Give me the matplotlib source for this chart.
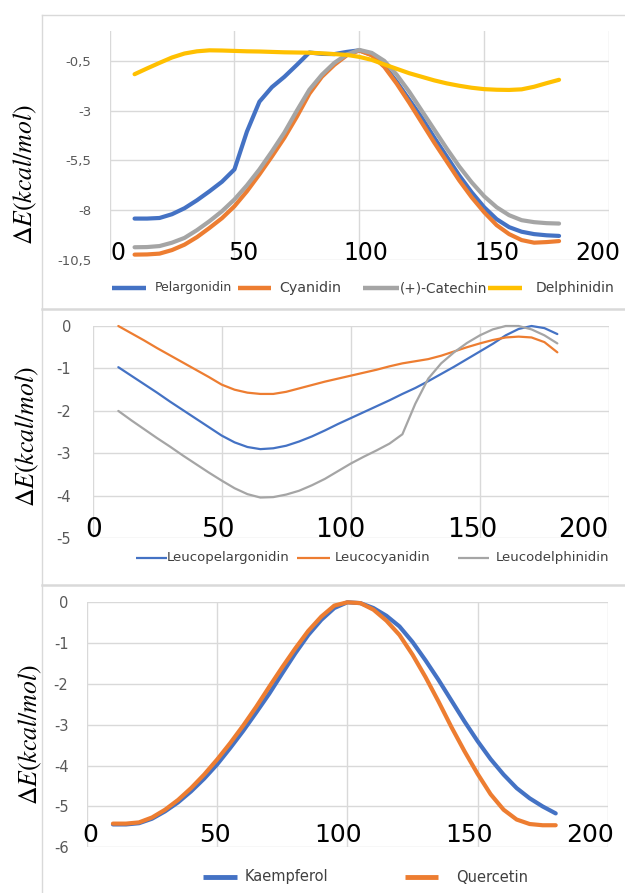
import matplotlib
matplotlib.use("Agg")
import matplotlib.pyplot as plt
from matplotlib.lines import Line2D

plt.rcParams["mathtext.fontset"] = "stix"
plt.rcParams["font.family"] = ["DejaVu Sans"]

# ---------------- data ----------------
angles = list(range(10, 181, 5))

# Panel 1
pelargonidin = [-8.42, -8.42, -8.39, -8.2, -7.9, -7.5, -7.05, -6.57, -5.95, -4.05,
                -2.55, -1.82, -1.3, -0.7, -0.08, -0.15, -0.16, -0.05, 0.03, -0.2,
                -0.75, -1.55, -2.45, -3.35, -4.35, -5.3, -6.25, -7.1, -7.85, -8.45,
                -8.85, -9.08, -9.2, -9.26, -9.29]
cyanidin = [-10.23, -10.22, -10.18, -10.0, -9.73, -9.35, -8.89, -8.4, -7.8, -7.05,
            -6.2, -5.3, -4.36, -3.3, -2.15, -1.3, -0.7, -0.22, 0.02, -0.22,
            -0.8, -1.65, -2.6, -3.6, -4.6, -5.55, -6.5, -7.35, -8.1, -8.75,
            -9.2, -9.5, -9.63, -9.6, -9.55]
catechin = [-9.86, -9.85, -9.8, -9.63, -9.39, -9.0, -8.55, -8.05, -7.46, -6.75,
            -5.95, -5.05, -4.1, -3.0, -1.95, -1.2, -0.6, -0.18, 0.05, -0.1,
            -0.5, -1.2, -2.05, -3.0, -3.95, -4.9, -5.8, -6.6, -7.3, -7.85,
            -8.25, -8.5, -8.6, -8.65, -8.67]
delphinidin = [-1.17, -0.88, -0.6, -0.33, -0.13, -0.02, 0.03, 0.02, 0.0, -0.02,
               -0.03, -0.05, -0.07, -0.08, -0.09, -0.12, -0.16, -0.2, -0.3, -0.45,
               -0.68, -0.9, -1.12, -1.3, -1.48, -1.63, -1.75, -1.85, -1.92, -1.95,
               -1.96, -1.93, -1.8, -1.62, -1.45]

# Panel 2
leucopelargonidin = [-0.97, -1.17, -1.37, -1.57, -1.78, -1.98, -2.18, -2.38, -2.58, -2.74,
                     -2.85, -2.9, -2.88, -2.82, -2.72, -2.6, -2.46, -2.31, -2.17, -2.03,
                     -1.89, -1.75, -1.6, -1.46, -1.3, -1.13, -0.96, -0.78, -0.6, -0.42,
                     -0.22, -0.07, 0.0, -0.05, -0.19]
leucocyanidin = [0.0, -0.17, -0.34, -0.52, -0.69, -0.86, -1.03, -1.2, -1.38, -1.5,
                 -1.57, -1.6, -1.6, -1.55, -1.47, -1.39, -1.31, -1.24, -1.17, -1.1,
                 -1.03, -0.95, -0.88, -0.83, -0.78, -0.7, -0.6, -0.5, -0.41, -0.33,
                 -0.27, -0.25, -0.27, -0.38, -0.62]
leucodelphinidin = [-2.0, -2.22, -2.43, -2.64, -2.84, -3.05, -3.25, -3.45, -3.64, -3.82,
                    -3.96, -4.04, -4.03, -3.97, -3.88, -3.75, -3.6, -3.42, -3.24, -3.08,
                    -2.93, -2.77, -2.55, -1.83, -1.24, -0.88, -0.62, -0.4, -0.22, -0.08,
                    0.0, 0.0, -0.08, -0.22, -0.41]

# Panel 3
kaempferol = [-5.44, -5.44, -5.41, -5.3, -5.12, -4.9, -4.63, -4.32, -3.97, -3.57,
              -3.15, -2.7, -2.24, -1.74, -1.25, -0.8, -0.43, -0.14, 0.0, -0.02,
              -0.14, -0.33, -0.59, -0.97, -1.42, -1.9, -2.41, -2.92, -3.4, -3.84,
              -4.22, -4.55, -4.8, -5.0, -5.17]
quercetin = [-5.42, -5.42, -5.39, -5.27, -5.08, -4.84, -4.55, -4.22, -3.85, -3.45,
             -3.02, -2.56, -2.07, -1.59, -1.13, -0.7, -0.35, -0.08, 0.0, -0.02,
             -0.18, -0.45, -0.8, -1.28, -1.83, -2.43, -3.06, -3.65, -4.2, -4.7,
             -5.08, -5.32, -5.43, -5.46, -5.46]

x_ticks = [0, 50, 100, 150, 200]
x_tick_labels = ["0", "50", "100", "150", "200"]
y1_ticks = [-0.5, -3, -5.5, -8, -10.5]
y1_labels = ["-0,5", "-3", "-5,5", "-8", "-10,5"]
y2_ticks = [0, -1, -2, -3, -4, -5]
y2_labels = ["0", "-1", "-2", "-3", "-4", "-5"]
y3_ticks = [0, -1, -2, -3, -4, -5, -6]
y3_labels = ["0", "-1", "-2", "-3", "-4", "-5", "-6"]

BLUE, ORANGE, GRAY, GOLD = "#4472C4", "#ED7D31", "#A5A5A5", "#FFC000"
GRID = "#d9d9d9"
TICKC = "#595959"
LEGC = "#404040"

W, H = 625, 893
fig = plt.figure(figsize=(W / 100, H / 100), dpi=100)
fig.patch.set_facecolor("white")


def fx(x):
    return x / W


def fy(y):
    return 1 - y / H


def add_ax(l, t, r, b):
    return fig.add_axes([l / W, 1 - b / H, (r - l) / W, (b - t) / H])


def style(ax, ylim, yt, ytl, ysize, pad):
    ax.set_xlim(0, 200)
    ax.set_ylim(*ylim)
    ax.set_xticks(x_ticks)
    ax.set_xticklabels([])
    ax.set_yticks(yt)
    ax.set_yticklabels(ytl, color=TICKC, fontsize=ysize)
    ax.tick_params(length=0, pad=pad)
    for s in ax.spines.values():
        s.set_visible(False)
    ax.grid(True, color=GRID, lw=1.0)
    ax.set_axisbelow(True)
    ax.patch.set_alpha(0)


def big_xlabels(ax, centers, ybase, size):
    for c, t in zip(centers, x_tick_labels):
        ax.text(c, ybase, t, ha="center", va="baseline", fontsize=size, color="black")


def ylabel(xc, yc, size):
    fig.text(fx(xc), fy(yc), r"$\Delta E(kcal/mol)$", rotation=90,
             ha="center", va="center", fontsize=size, color="black")


def legend_items(y, items, lw):
    for x0, x1, tx, col, label, size in items:
        fig.add_artist(Line2D([fx(x0), fx(x1)], [fy(y), fy(y)], color=col, lw=lw,
                              solid_capstyle="butt"))
        fig.text(fx(tx), fy(y), label, ha="left", va="center", fontsize=size, color=LEGC)


# frame lines
fig.add_artist(Line2D([fx(42), fx(42)], [fy(15), fy(893)], color=GRID, lw=1.0))
fig.add_artist(Line2D([fx(42), fx(625)], [fy(15), fy(15)], color=GRID, lw=1.0))
fig.add_artist(Line2D([fx(42), fx(625)], [fy(309), fy(309)], color=GRID, lw=1.8))
fig.add_artist(Line2D([fx(42), fx(625)], [fy(585), fy(585)], color=GRID, lw=1.8))

line_kw = dict(clip_on=False, solid_capstyle="round", solid_joinstyle="round")

# ---------------- Panel 1 ----------------
ax1 = add_ax(109.6, 31, 609, 260)
style(ax1, (-10.5, 1.0), y1_ticks, y1_labels, 9.5, 13)
for yv, col in zip([pelargonidin, cyanidin, catechin, delphinidin], [BLUE, ORANGE, GRAY, GOLD]):
    ax1.plot(angles, yv, color=col, lw=3, **line_kw)
big_xlabels(ax1, [3.5, 53.6, 102.6, 155.2, 195.5], -10.5, 17)
ylabel(25, 175, 18.5)
legend_items(288, [
    (112, 146, 155, BLUE, "Pelargonidin", 9),
    (238, 271, 279, ORANGE, "Cyanidin", 10.3),
    (363, 399, 400, GRAY, "(+)-Catechin", 9.8),
    (488, 522, 536, GOLD, "Delphinidin", 10),
], 3.2)

# ---------------- Panel 2 ----------------
ax2 = add_ax(92.5, 326, 609, 538.3)
style(ax2, (-5, 0), y2_ticks, y2_labels, 10.5, 15.5)
for yv, col in zip([leucopelargonidin, leucocyanidin, leucodelphinidin], [BLUE, ORANGE, GRAY]):
    ax2.plot(angles, yv, color=col, lw=1.6, **line_kw)
big_xlabels(ax2, [0.5, 48.8, 96.1, 147, 190.2], -4.97, 19)
ylabel(27, 437, 18.5)
legend_items(558, [
    (135.5, 167.4, 166.6, BLUE, "Leucopelargonidin", 9.5),
    (297, 330, 335, ORANGE, "Leucocyanidin", 9.5),
    (458, 489, 496, GRAY, "Leucodelphinidin", 9.5),
], 1.6)

# ---------------- Panel 3 ----------------
ax3 = add_ax(86.9, 602.3, 607.8, 847.3)
style(ax3, (-6, 0), y3_ticks, y3_labels, 10.5, 13.3)
for yv, col in zip([kaempferol, quercetin], [BLUE, ORANGE]):
    ax3.plot(angles, yv, color=col, lw=3, **line_kw)
big_xlabels(ax3, [1.5, 49.1, 96.6, 146.7, 193.1], -5.86, 18)
ylabel(30, 735, 18.5)
legend_items(877, [
    (203, 237, 245, BLUE, "Kaempferol", 10.5),
    (404.5, 438.4, 456, ORANGE, "Quercetin", 10.5),
], 3.5)

fig.savefig("out.png", dpi=100, facecolor="white")
